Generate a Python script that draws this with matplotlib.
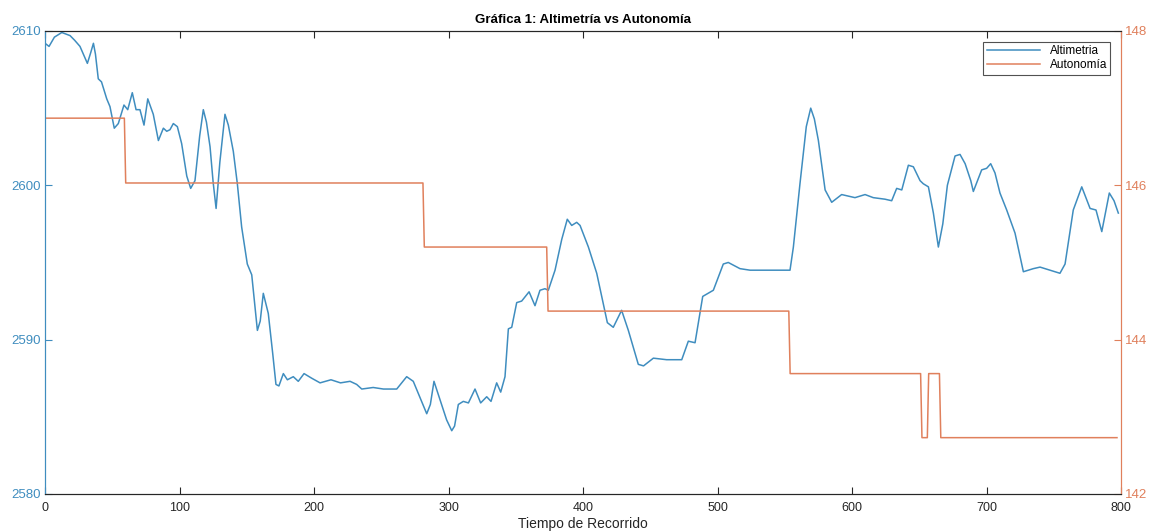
import matplotlib.pyplot as plt
import numpy as np

plt.rcParams['font.family'] = ['Liberation Sans', 'DejaVu Sans']

# altimetria (m) sampled along the route
alt_t = [0, 3, 7, 12.5, 18.6, 22, 26, 31.5, 34, 36, 37.5, 39.6, 42, 45.9, 48.3, 51.5, 54.5,
         58.7, 61.5, 64.9, 67.7, 70.6, 73.6, 76.4, 80.5, 84.3, 88, 90.5, 92.9, 95.4, 98.4,
         101.6, 105.4, 108.3, 111.5, 115, 117.7, 120, 122.7, 125, 127.2, 130, 133.8, 136.3,
         140, 143, 146.2, 150.4, 153.7, 157.9, 160, 162.3, 166, 169.3, 171.7, 173.9, 177.2,
         180.2, 184.6, 188.3, 192.6, 198.3, 204.5, 212.6, 219.7, 226.8, 231.7, 235.5, 244,
         251.6, 261.5, 268.9, 273.8, 279, 283.8, 286.5, 289.2, 293.7, 298.6, 302.4, 304.5,
         307.3, 311, 314.8, 319.7, 323.9, 328.4, 331.6, 335.8, 338.8, 342, 344.5, 347, 350.7,
         354.4, 359.9, 364.3, 368, 371.7, 374.2, 379.2, 384.2, 388.3, 391.6, 395.3, 397.8,
         404, 410.2, 413.9, 418.1, 422.5, 428.7, 433.7, 441.1, 445, 452.3, 462.2, 473.4,
         478.3, 483.3, 489, 496.9, 504.3, 508, 516.7, 524.2, 546.5, 553.9, 556.4, 561.3,
         566, 569.3, 572, 575, 580, 584.9, 592.3, 602.2, 609.7, 615.8, 624.5, 629.5, 633.2,
         637, 641.9, 645.6, 650.6, 653, 656.8, 660.5, 664.2, 667.5, 670.9, 676.6, 680.3,
         684.1, 688.3, 690.2, 696.4, 700.1, 703.1, 706.3, 710, 715, 721.2, 727.4, 734.8,
         739.8, 747.2, 754.6, 758.4, 764.5, 770.8, 777, 781.4, 785.7, 791.3, 794.8, 798]
alt_m = [2609.2, 2609.0, 2609.6, 2609.9, 2609.7, 2609.4, 2609.0, 2607.9, 2608.6, 2609.2,
         2608.5, 2606.9, 2606.7, 2605.6, 2605.1, 2603.7, 2604.0, 2605.2, 2604.9, 2606.0,
         2604.9, 2604.9, 2603.9, 2605.6, 2604.6, 2602.9, 2603.7, 2603.5, 2603.6, 2604.0,
         2603.8, 2602.7, 2600.6, 2599.8, 2600.3, 2603.2, 2604.9, 2604.1, 2602.5, 2600.2,
         2598.5, 2601.5, 2604.6, 2603.9, 2602.2, 2600.1, 2597.3, 2594.9, 2594.2, 2590.6,
         2591.2, 2593.0, 2591.7, 2589.1, 2587.1, 2587.0, 2587.8, 2587.4, 2587.6, 2587.3,
         2587.8, 2587.5, 2587.2, 2587.4, 2587.2, 2587.3, 2587.1, 2586.8, 2586.9, 2586.8,
         2586.8, 2587.6, 2587.3, 2586.2, 2585.2, 2585.8, 2587.3, 2586.1, 2584.8, 2584.1,
         2584.4, 2585.8, 2586.0, 2585.9, 2586.8, 2585.9, 2586.3, 2586.0, 2587.2, 2586.6,
         2587.6, 2590.7, 2590.8, 2592.4, 2592.5, 2593.1, 2592.2, 2593.2, 2593.3, 2593.2,
         2594.5, 2596.5, 2597.8, 2597.4, 2597.6, 2597.4, 2596.0, 2594.3, 2592.8, 2591.1,
         2590.8, 2591.9, 2590.6, 2588.4, 2588.3, 2588.8, 2588.7, 2588.7, 2589.9, 2589.8,
         2592.8, 2593.2, 2594.9, 2595.0, 2594.6, 2594.5, 2594.5, 2594.5, 2596.0, 2600.1,
         2603.8, 2605.0, 2604.3, 2602.9, 2599.7, 2598.9, 2599.4, 2599.2, 2599.4, 2599.2,
         2599.1, 2599.0, 2599.8, 2599.7, 2601.3, 2601.2, 2600.3, 2600.1, 2599.9, 2598.2,
         2596.0, 2597.5, 2600.0, 2601.9, 2602.0, 2601.4, 2600.3, 2599.6, 2601.0, 2601.1,
         2601.4, 2600.8, 2599.5, 2598.4, 2596.9, 2594.4, 2594.6, 2594.7, 2594.5, 2594.3,
         2594.9, 2598.4, 2599.9, 2598.5, 2598.4, 2597.0, 2599.5, 2599.0, 2598.2]

# autonomia, stepwise
aut_t = [0, 59, 60, 281, 282, 373, 374, 553, 554, 651, 652, 656, 657, 665, 666, 797]
aut_v = [146.87, 146.87, 146.03, 146.03, 145.2, 145.2, 144.37, 144.37, 143.56, 143.56,
         142.73, 142.73, 143.56, 143.56, 142.73, 142.73]

c_alt = '#3f8dbf'
c_aut = '#e0805c'

fig = plt.figure(figsize=(11.57, 5.31), dpi=100)
ax = fig.add_axes([0.0389, 0.0697, 0.930, 0.872])
ax2 = ax.twinx()

l1, = ax.plot(alt_t, alt_m, color=c_alt, lw=1.1, label='Altimetria')
l2, = ax2.plot(aut_t, aut_v, color=c_aut, lw=1.1, label='Autonomía')

ax.set_xlim(0, 800)
ax.set_ylim(2580, 2610)
ax2.set_ylim(142, 148)
ax.set_xticks(np.arange(0, 801, 100))
ax.set_yticks([2580, 2590, 2600, 2610])
ax2.set_yticks([142, 144, 146, 148])

ax.tick_params(axis='x', direction='in', top=True, length=5, labelsize=9,
               colors='#262626', pad=6)
ax.tick_params(axis='y', direction='in', length=5, labelsize=9.5, colors=c_alt, pad=3)
ax2.tick_params(axis='y', direction='in', length=5, labelsize=9.5, colors=c_aut, pad=3)
for a in (ax, ax2):
    a.spines['top'].set_color('#262626')
    a.spines['bottom'].set_color('#262626')
    a.spines['left'].set_color(c_alt)
    a.spines['right'].set_color(c_aut)

ax.set_title('Gráfica 1: Altimetría vs Autonomía', fontsize=9.5, fontweight='bold', pad=6)
ax.set_xlabel('Tiempo de Recorrido', fontsize=10, color='#262626', labelpad=2)

leg = ax.legend(handles=[l1, l2], loc='upper right', fontsize=8.5, frameon=True,
                fancybox=False, edgecolor='#262626', handlelength=4.5,
                borderaxespad=0.9, labelspacing=0.2, borderpad=0.3)
leg.get_frame().set_linewidth(0.8)

fig.savefig('out.png', dpi=100, facecolor='white')
